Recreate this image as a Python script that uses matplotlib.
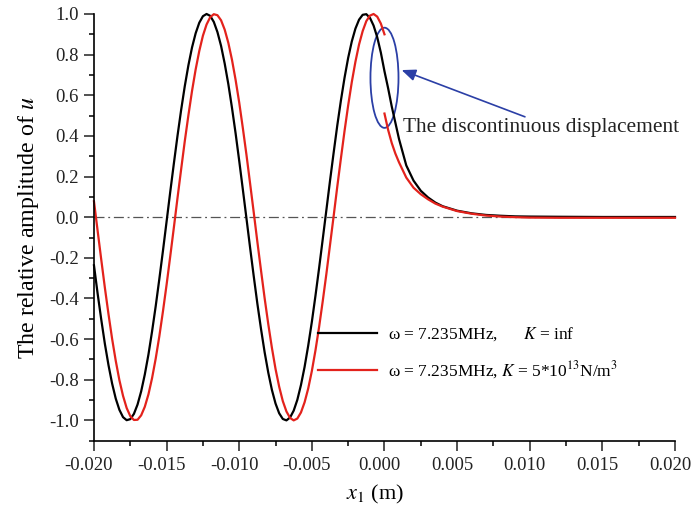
import numpy as np
import matplotlib
matplotlib.use('Agg')
import matplotlib.pyplot as plt
import matplotlib.transforms as mtransforms
from matplotlib.patches import Ellipse
from matplotlib.ticker import MultipleLocator, FuncFormatter

plt.rcParams['font.family'] = ['Liberation Serif', 'DejaVu Serif']
plt.rcParams['mathtext.fontset'] = 'stix'
plt.rcParams['axes.unicode_minus'] = False

# x < 0 part, step 0.00025 m
x_neg = np.arange(81) * 0.00025 - 0.020

u_black_neg = [-0.237, -0.375, -0.503, -0.623, -0.728, -0.819, -0.893, -0.948, -0.984, -0.999,
               -0.994, -0.968, -0.922, -0.857, -0.774, -0.676, -0.562, -0.438, -0.304, -0.165,
               -0.021, 0.124, 0.264, 0.400, 0.527, 0.644, 0.747, 0.835, 0.905, 0.957,
               0.989, 1.000, 0.991, 0.961, 0.911, 0.843, 0.756, 0.655, 0.539, 0.413,
               0.277, 0.136, -0.007, -0.151, -0.291, -0.426, -0.550, -0.665, -0.765, -0.850,
               -0.917, -0.965, -0.993, -1.000, -0.986, -0.952, -0.899, -0.826, -0.737, -0.632,
               -0.515, -0.386, -0.250, -0.108, 0.035, 0.179, 0.317, 0.451, 0.574, 0.686,
               0.784, 0.865, 0.928, 0.972, 0.996, 0.999, 0.981, 0.943, 0.886, 0.810,
               0.718]
u_red_neg = [0.078, -0.066, -0.208, -0.347, -0.477, -0.599, -0.707, -0.802, -0.879, -0.939,
             -0.979, -0.998, -0.997, -0.975, -0.933, -0.872, -0.792, -0.696, -0.586, -0.463,
             -0.332, -0.193, -0.051, 0.094, 0.235, 0.373, 0.501, 0.621, 0.727, 0.818,
             0.893, 0.948, 0.984, 0.999, 0.994, 0.969, 0.923, 0.858, 0.775, 0.676,
             0.564, 0.438, 0.306, 0.165, 0.023, -0.122, -0.262, -0.399, -0.526, -0.643,
             -0.747, -0.834, -0.905, -0.956, -0.988, -1.000, -0.991, -0.961, -0.911, -0.843,
             -0.757, -0.655, -0.540, -0.413, -0.279, -0.137, 0.005, 0.150, 0.289, 0.424,
             0.550, 0.665, 0.765, 0.850, 0.916, 0.965, 0.992, 1.000, 0.987, 0.953,
             0.900]

# x >= 0 (decaying part)
x_pos = [0.0, 0.00025, 0.0005, 0.00075, 0.001, 0.0015, 0.002, 0.0025, 0.003, 0.0035,
         0.004, 0.005, 0.006, 0.007, 0.008, 0.009, 0.010, 0.012, 0.015, 0.020]
u_black_pos = [0.718, 0.635, 0.545, 0.465, 0.385, 0.255, 0.180, 0.130, 0.097, 0.072,
               0.054, 0.032, 0.019, 0.011, 0.007, 0.004, 0.003, 0.002, 0.001, 0.001]
u_red_pos = [0.510, 0.430, 0.365, 0.313, 0.270, 0.195, 0.145, 0.113, 0.088, 0.067,
             0.052, 0.030, 0.017, 0.008, 0.003, 0.0, -0.002, -0.003, -0.003, -0.003]

# black is continuous at x = 0, red jumps
xb = np.concatenate([x_neg, x_pos[1:]])
ub = np.concatenate([u_black_neg, u_black_pos[1:]])

fig = plt.figure(figsize=(6.94, 5.2), dpi=100)
ax = fig.add_axes([0.1354, 0.1525, 0.8372, 0.8206])

red = '#e3221c'
blue = '#2b3fa6'
ax.axhline(0, color='#555555', lw=0.9, ls=(0, (8, 3, 1.5, 3)), zorder=1)
ax.plot(xb, ub, color='black', lw=1.6, clip_on=False,
        label=r'ω = 7.235MHz,      $\mathit{K}$ = inf')
ax.plot(x_neg, u_red_neg, color=red, lw=1.6, clip_on=False,
        label=r'ω = 7.235MHz, $\mathit{K}$ = 5*10$^{13}$N/m$^{3}$')
ax.plot(x_pos, u_red_pos, color=red, lw=1.6, clip_on=False)

# annotation
ell = Ellipse((0.0, 0.686), 0.00193, 0.493, fill=False, edgecolor=blue, lw=1.3)
ax.add_patch(ell)
ax.annotate('', xy=(0.00118, 0.724), xytext=(0.00967, 0.494),
            arrowprops=dict(arrowstyle='-|>,head_length=0.6,head_width=0.25',
                            color=blue, lw=1.2, mutation_scale=14,
                            shrinkA=0, shrinkB=0))
ax.text(0.0013, 0.44, 'The discontinuous displacement', fontsize=15.4,
        ha='left', va='center', color='#222222')

ax.set_xlim(-0.020, 0.020)
ax.set_ylim(-1.1, 1.0)
ax.xaxis.set_major_locator(MultipleLocator(0.005))
ax.xaxis.set_minor_locator(MultipleLocator(0.0025))
ax.yaxis.set_minor_locator(MultipleLocator(0.1))
ax.set_yticks(np.linspace(-1.0, 1.0, 11))
ax.xaxis.set_major_formatter(FuncFormatter(lambda v, p: '%.3f' % (round(v, 3) + 0.0)))
ax.yaxis.set_major_formatter(FuncFormatter(lambda v, p: '%.1f' % (round(v, 1) + 0.0)))

for s in ['top', 'right']:
    ax.spines[s].set_visible(False)
for s in ['left', 'bottom']:
    ax.spines[s].set_linewidth(1.2)

ax.tick_params(which='major', direction='out', length=7, width=1.1,
               labelsize=13.5, colors='#222222')
ax.tick_params(which='minor', direction='out', length=3.6, width=1.1)
ax.tick_params(axis='x', which='major', pad=5)
ax.tick_params(axis='y', which='major', pad=4)

# x tick labels sit a little left of their ticks
ticks = ax.xaxis.get_major_ticks()
for i, t in enumerate(ticks):
    dx = -9 if i == len(ticks) - 1 else -5
    off = mtransforms.ScaledTranslation(dx / 100, 0, fig.dpi_scale_trans)
    t.label1.set_transform(t.label1.get_transform() + off)

ax.set_xlabel(r'$\mathit{x}_1$ (m)', fontsize=16)
ax.xaxis.set_label_coords(0.484, -0.1)
ax.set_ylabel(r'The relative amplitude of $\mathit{u}$', fontsize=17.3, labelpad=6)

ax.legend(loc='upper left', bbox_to_anchor=(0.386, 0.27), frameon=False,
          fontsize=12.5, handlelength=3.4, handletextpad=0.6, borderpad=0,
          borderaxespad=0, labelspacing=0.9)

fig.savefig('out.png', dpi=100)
